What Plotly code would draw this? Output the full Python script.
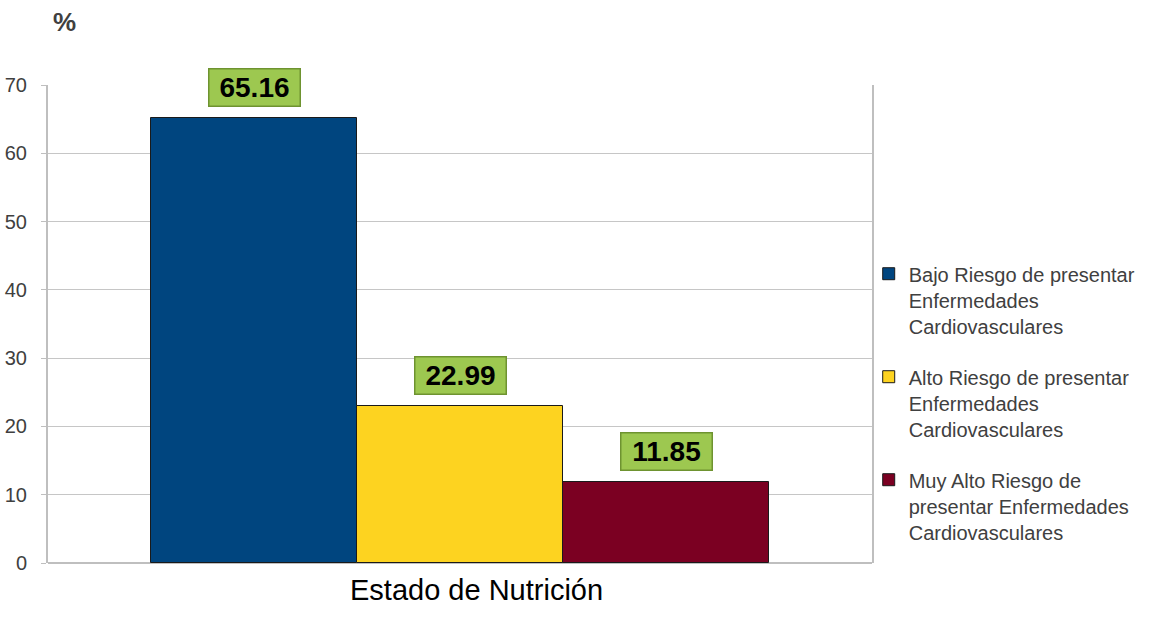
import plotly.graph_objects as go

categories = ["Bajo Riesgo de presentar<br>Enfermedades<br>Cardiovasculares",
              "Alto Riesgo de presentar<br>Enfermedades<br>Cardiovasculares",
              "Muy Alto Riesgo de<br>presentar Enfermedades<br>Cardiovasculares"]
values = [65.16, 22.99, 11.85]
labels = ["65.16", "22.99", "11.85"]
colors = ["#00457f", "#fdd320", "#7b0022"]
y_ticks = [0, 10, 20, 30, 40, 50, 60, 70]

FONT = "Arial, Liberation Sans, sans-serif"

fig = go.Figure()
for i, (name, v, c) in enumerate(zip(categories, values, colors)):
    fig.add_trace(go.Bar(
        x=[i], y=[v], name=name, marker=dict(color=c, line=dict(color="#1a1a1a", width=1)),
        width=1, legendgroup=f"g{i}", hoverinfo="skip"))
    fig.add_annotation(
        x=i, y=v, text=f"<b>{labels[i]}</b>", showarrow=False, yanchor="bottom", yshift=11,
        font=dict(family=FONT, size=28, color="#000000"), bgcolor="#9dc850",
        bordercolor="#6e9330", borderwidth=1.5, borderpad=1, width=88, height=34)

fig.add_annotation(x=0, y=1, xref="paper", yref="paper", xshift=16, yshift=63, xanchor="center",
                   yanchor="middle", text="<b>%</b>", showarrow=False,
                   font=dict(family=FONT, size=26, color="#404040"))

fig.add_annotation(x=0.5, y=0, xref="paper", yref="paper", xshift=16, yshift=-27, xanchor="center",
                   yanchor="middle", text="Estado de Nutrición", showarrow=False,
                   font=dict(family=FONT, size=29, color="#000000"))

fig.update_layout(
    width=1151, height=626, paper_bgcolor="white", plot_bgcolor="white",
    margin=dict(l=48, r=279, t=85, b=63, autoexpand=False),
    barmode="overlay", bargap=0,
    showlegend=True,
    legend=dict(x=0.996, y=0.646, xanchor="left", yanchor="top", tracegroupgap=22,
                font=dict(family=FONT, size=20, color="#404040"), itemwidth=30, valign="top",
                bgcolor="rgba(0,0,0,0)"),
    xaxis=dict(range=[-1, 3], showticklabels=False, showgrid=False, zeroline=False,
               showline=False, ticks=""),
    yaxis=dict(range=[0, 70], tickvals=y_ticks, showgrid=True, gridcolor="#c6c6c6", gridwidth=1,
               zeroline=True, zerolinecolor="#bfbfbf", showline=True, linecolor="#bfbfbf",
               linewidth=2, mirror=True, ticks="outside", ticklen=5, tickcolor="#bfbfbf",
               ticklabelstandoff=10, automargin=False,
               tickfont=dict(family=FONT, size=20, color="#404040")),
)

fig.write_html("out.html")
